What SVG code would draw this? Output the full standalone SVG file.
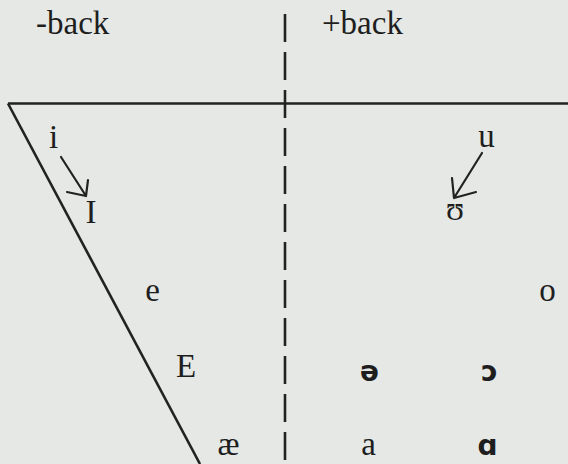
<svg xmlns="http://www.w3.org/2000/svg" width="568" height="464" viewBox="0 0 568 464">
<style>
.t{font-family:"Liberation Serif","Times New Roman",serif;font-size:33px;fill:#1e1e1e;}
.ipa{font-family:"DejaVu Sans",sans-serif;font-size:28px;font-weight:bold;fill:#1e1e1e;}
.ln{stroke:#222;stroke-width:2.6;fill:none;stroke-linecap:butt;}
.ar{stroke:#222;stroke-width:2.2;fill:none;stroke-linecap:round;stroke-linejoin:round;}
</style>
<rect width="568" height="464" fill="#e5e8e5"/>
<g id="chart">
<line class="ln" x1="8" y1="103.5" x2="568" y2="103.5"/>
<line class="ln" x1="8" y1="103.5" x2="200" y2="464"/>
<line class="ln" x1="285" y1="14" x2="285" y2="464" stroke-dasharray="28 10"/>
</g>
<g id="labels">
<text class="t" x="36" y="34" font-size="32">-back</text>
<text class="t" x="322" y="34" font-size="32">+back</text>
</g>
<g id="i"><text class="t" x="53.5" y="148" text-anchor="middle">i</text></g>
<g id="I"><text class="t" x="91" y="223" text-anchor="middle">I</text></g>
<g id="u"><text class="t" x="486.5" y="147" text-anchor="middle">u</text></g>
<g id="upsilon"><text class="t" x="455" y="220" text-anchor="middle">ʊ</text></g>
<g id="e"><text class="t" x="152.5" y="301" text-anchor="middle">e</text></g>
<g id="o"><text class="t" x="547.5" y="301" text-anchor="middle">o</text></g>
<g id="E"><text class="t" x="186" y="377" text-anchor="middle">E</text></g>
<g id="schwa"><text class="ipa" x="369.5" y="381" text-anchor="middle">ə</text></g>
<g id="openo"><text class="ipa" x="489.5" y="381" text-anchor="middle">ɔ</text></g>
<g id="ae"><text class="t" x="228.5" y="455" text-anchor="middle">æ</text></g>
<g id="a"><text class="t" x="368.5" y="455" text-anchor="middle">a</text></g>
<g id="alpha"><text class="ipa" x="487.5" y="455" text-anchor="middle">ɑ</text></g>
<g id="connectors">
<path class="ar" d="M61 157 L86 196 M67 192 L86 196 L88 180"/>
<path class="ar" d="M482 153 L454 198 M452 178 L454 198 L476 192"/>
</g>
</svg>
